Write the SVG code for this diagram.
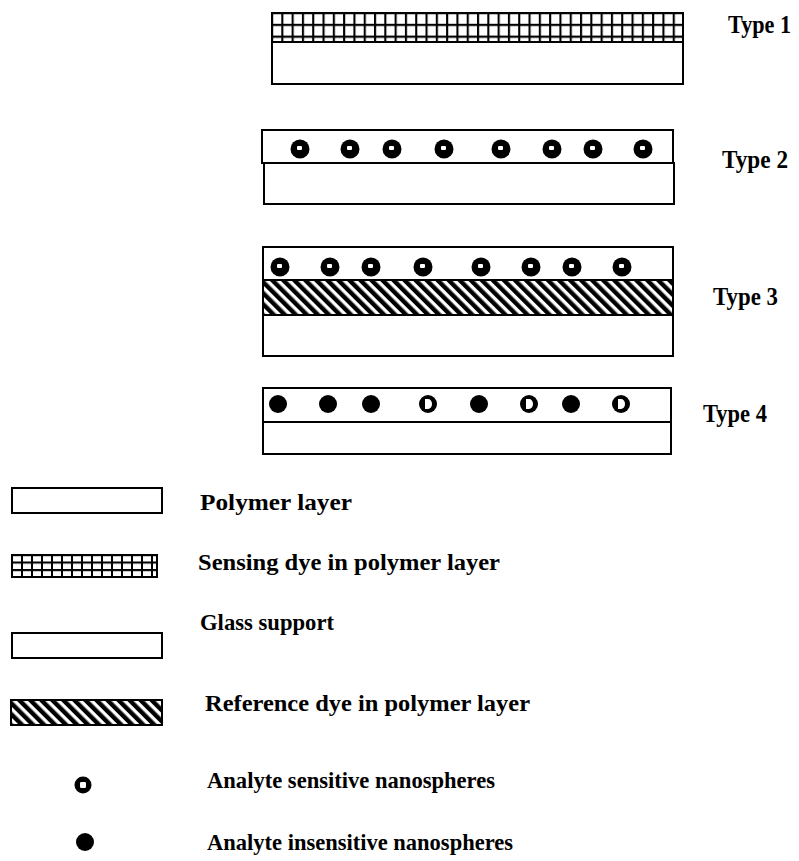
<svg xmlns="http://www.w3.org/2000/svg" xmlns:xlink="http://www.w3.org/1999/xlink" width="799" height="861" viewBox="0 0 799 861">
  <defs>
    <style>
      .layer { fill: #ffffff; stroke: #000000; stroke-width: 2; }
      .grid1 { fill: url(#gridFilm); stroke: #000000; stroke-width: 2; }
      .grid2 { fill: url(#gridKey); stroke: #000000; stroke-width: 2; }
      .hatch { fill: url(#hatch); stroke: #000000; stroke-width: 2; }
      .lbl { font-family: "Liberation Serif", "Times New Roman", serif; font-weight: bold; fill: #000000; }
      .type { font-size: 25px; }
      .key { font-size: 23px; }
    </style>
    <!-- grid hatching for the sensing dye layer (film) -->
    <pattern id="gridFilm" patternUnits="userSpaceOnUse" x="271" y="12" width="10.3" height="11.8">
      <rect width="10.3" height="11.8" fill="#ffffff"/>
      <path d="M0 1 H10.3 M1 0 V11.8" stroke="#000000" stroke-width="2.2" fill="none"/>
    </pattern>
    <!-- grid hatching for the legend swatch -->
    <pattern id="gridKey" patternUnits="userSpaceOnUse" x="11" y="554" width="10" height="7.5">
      <rect width="10" height="7.5" fill="#ffffff"/>
      <path d="M0 1 H10 M1 0 V7.5" stroke="#000000" stroke-width="2" fill="none"/>
    </pattern>
    <!-- diagonal stripes for the reference dye layer -->
    <pattern id="hatch" patternUnits="userSpaceOnUse" width="7.8" height="7.8" patternTransform="rotate(-45)">
      <rect width="7.8" height="7.8" fill="#ffffff"/>
      <rect width="4.4" height="7.8" fill="#000000"/>
    </pattern>
    <!-- nanospheres -->
    <g id="sens">
      <circle r="9.5" fill="#000000"/>
      <rect x="-3" y="-3" width="5" height="4" rx="1" fill="#ffffff"/>
    </g>
    <g id="insens">
      <circle r="9" fill="#000000"/>
    </g>
    <g id="sensD">
      <circle r="9" fill="#000000"/>
      <path d="M-3 -5 H0 A4 5 0 0 1 0 5 H-3 Z" fill="#ffffff"/>
    </g>
  </defs>

  <rect width="799" height="861" fill="#ffffff"/>

  <!-- Type 1: sensing dye film on glass -->
  <g id="type1">
    <rect class="layer" x="272" y="42" width="411" height="42"/>
    <rect class="grid1" x="272" y="13" width="411" height="29"/>
    <text class="lbl type" x="728" y="33" textLength="63" lengthAdjust="spacingAndGlyphs">Type 1</text>
  </g>

  <!-- Type 2: nanospheres in polymer on glass -->
  <g id="type2">
    <rect class="layer" x="264" y="163" width="410" height="41"/>
    <rect class="layer" x="262" y="130" width="411" height="33"/>
    <use xlink:href="#sens" x="300" y="149"/>
    <use xlink:href="#sens" x="350" y="149"/>
    <use xlink:href="#sens" x="392" y="149"/>
    <use xlink:href="#sens" x="444" y="149"/>
    <use xlink:href="#sens" x="501" y="149"/>
    <use xlink:href="#sens" x="552" y="149"/>
    <use xlink:href="#sens" x="593" y="149"/>
    <use xlink:href="#sens" x="643" y="149"/>
    <text class="lbl type" x="722" y="168" textLength="66" lengthAdjust="spacingAndGlyphs">Type 2</text>
  </g>

  <!-- Type 3: nanospheres over a reference dye layer on glass -->
  <g id="type3">
    <rect class="layer" x="263" y="247" width="410" height="109"/>
    <rect class="hatch" x="263" y="280" width="410" height="35"/>
    <use xlink:href="#sens" x="280" y="267"/>
    <use xlink:href="#sens" x="330" y="267"/>
    <use xlink:href="#sens" x="371" y="267"/>
    <use xlink:href="#sens" x="423" y="267"/>
    <use xlink:href="#sens" x="481" y="267"/>
    <use xlink:href="#sens" x="531" y="267"/>
    <use xlink:href="#sens" x="572" y="267"/>
    <use xlink:href="#sens" x="622" y="267"/>
    <text class="lbl type" x="713" y="305" textLength="65" lengthAdjust="spacingAndGlyphs">Type 3</text>
  </g>

  <!-- Type 4: mixed sensitive and insensitive nanospheres -->
  <g id="type4">
    <rect class="layer" x="263" y="388" width="408" height="66"/>
    <line x1="263" y1="422" x2="671" y2="422" stroke="#000000" stroke-width="2"/>
    <use xlink:href="#insens" x="278" y="404"/>
    <use xlink:href="#insens" x="328" y="404"/>
    <use xlink:href="#insens" x="371" y="404"/>
    <use xlink:href="#sensD" x="428" y="404"/>
    <use xlink:href="#insens" x="479" y="404"/>
    <use xlink:href="#sensD" x="529" y="404"/>
    <use xlink:href="#insens" x="571" y="404"/>
    <use xlink:href="#sensD" x="621" y="404"/>
    <text class="lbl type" x="703" y="422" textLength="64" lengthAdjust="spacingAndGlyphs">Type 4</text>
  </g>

  <!-- Legend -->
  <g id="key-polymer">
    <rect class="layer" x="12" y="488" width="150" height="25"/>
    <text class="lbl key" x="200" y="510" textLength="152" lengthAdjust="spacingAndGlyphs">Polymer layer</text>
  </g>
  <g id="key-sensing">
    <rect class="grid2" x="12" y="555" width="145" height="22"/>
    <text class="lbl key" x="198" y="570" textLength="302" lengthAdjust="spacingAndGlyphs">Sensing dye in polymer layer</text>
  </g>
  <g id="key-glass">
    <rect class="layer" x="12" y="633" width="150" height="25"/>
    <text class="lbl key" x="200" y="630" textLength="134" lengthAdjust="spacingAndGlyphs">Glass support</text>
  </g>
  <g id="key-reference">
    <rect class="hatch" x="11" y="700" width="151" height="25"/>
    <text class="lbl key" x="205" y="711" textLength="325" lengthAdjust="spacingAndGlyphs">Reference dye in polymer layer</text>
  </g>
  <g id="key-sensitive">
    <circle cx="83" cy="785" r="8.5" fill="#000000"/>
    <rect x="80" y="782" width="6" height="6" rx="1.2" fill="#ffffff"/>
    <text class="lbl key" x="207" y="788" textLength="288" lengthAdjust="spacingAndGlyphs">Analyte sensitive nanospheres</text>
  </g>
  <g id="key-insensitive">
    <circle cx="85" cy="842" r="9" fill="#000000"/>
    <text class="lbl key" x="207" y="850" textLength="306" lengthAdjust="spacingAndGlyphs">Analyte insensitive nanospheres</text>
  </g>
</svg>
